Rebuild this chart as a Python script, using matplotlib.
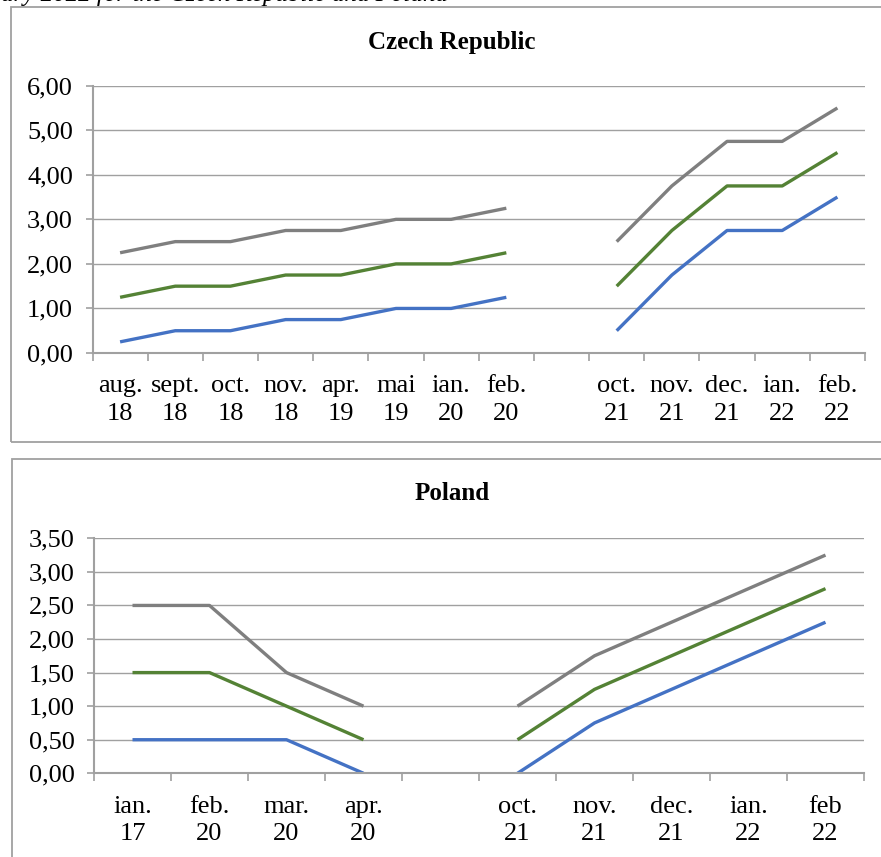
import matplotlib
matplotlib.use('Agg')
import matplotlib.pyplot as plt
import numpy as np
from matplotlib.patches import Rectangle

plt.rcParams['font.family'] = ['Liberation Serif', 'DejaVu Serif']

# Czech Republic data (gap between feb. 20 and oct. 21)
cz_labels = ['aug.\n18', 'sept.\n18', 'oct.\n18', 'nov.\n18', 'apr.\n19', 'mai\n19',
             'ian.\n20', 'feb.\n20', '', 'oct.\n21', 'nov.\n21', 'dec.\n21', 'ian.\n22', 'feb.\n22']
cz_blue = [0.25, 0.5, 0.5, 0.75, 0.75, 1.0, 1.0, 1.25, np.nan, 0.5, 1.75, 2.75, 2.75, 3.5]
cz_green = [1.25, 1.5, 1.5, 1.75, 1.75, 2.0, 2.0, 2.25, np.nan, 1.5, 2.75, 3.75, 3.75, 4.5]
cz_grey = [2.25, 2.5, 2.5, 2.75, 2.75, 3.0, 3.0, 3.25, np.nan, 2.5, 3.75, 4.75, 4.75, 5.5]

# Poland data
pl_labels = ['ian.\n17', 'feb.\n20', 'mar.\n20', 'apr.\n20', '', 'oct.\n21', 'nov.\n21',
             'dec.\n21', 'ian.\n22', 'feb\n22']
pl_blue = [0.5, 0.5, 0.5, 0.0, np.nan, 0.0, 0.75, 1.25, 1.75, 2.25]
pl_green = [1.5, 1.5, 1.0, 0.5, np.nan, 0.5, 1.25, 1.75, 2.25, 2.75]
pl_grey = [2.5, 2.5, 1.5, 1.0, np.nan, 1.0, 1.75, 2.25, 2.75, 3.25]

BLUE = '#4472c4'
GREEN = '#548235'
GREY = '#7f7f7f'
GRID = '#a0a0a0'
FS = 19
TFS = 18
W, H = 881, 857


def px_box(left, top, right, bottom):
    # figure fractions from pixel coords (origin top-left)
    return [left / W, 1 - bottom / H, (right - left) / W, (bottom - top) / H]


def draw_panel(fig, rect, labels, series, ymax, ystep):
    ax = fig.add_axes(rect)
    n = len(labels)
    x = np.arange(n) + 0.5
    for vals, col in series:
        ax.plot(x, vals, color=col, linewidth=2.4, solid_capstyle='butt')
    ax.set_xlim(0, n)
    ax.set_ylim(0, ymax)
    yt = np.arange(0, ymax + 1e-9, ystep)
    ax.set_yticks(yt)
    ax.set_yticklabels([f'{v:.2f}'.replace('.', ',') for v in yt], fontsize=FS)
    ax.set_xticks(x)
    ax.set_xticklabels(labels, fontsize=FS, linespacing=1.32)
    ax.set_xticks(np.arange(n + 1), minor=True)
    ax.tick_params(axis='x', which='major', length=0, pad=16)
    ax.tick_params(axis='x', which='minor', length=6, color=GRID, width=1.2)
    ax.tick_params(axis='y', length=5, color=GRID, width=1.2, pad=9)
    ax.yaxis.grid(True, color=GRID, linewidth=1.0)
    ax.set_axisbelow(True)
    for s in ['top', 'right']:
        ax.spines[s].set_visible(False)
    for s in ['left', 'bottom']:
        ax.spines[s].set_color(GRID)
        ax.spines[s].set_linewidth(1.5)
    return ax


fig = plt.figure(figsize=(W / 100, H / 100), dpi=100)

# outer frames
for l, t, r, b in [(11, 7.5, 900, 441.7), (11.5, 459, 900, 900)]:
    fig.patches.append(Rectangle((l / W, 1 - b / H), (r - l) / W, (b - t) / H,
                                 transform=fig.transFigure, fill=False,
                                 edgecolor=GRID, linewidth=1.3))

fig.text(448 / W, 1 - 1.5 / H, 'ary 2022 for the Czech Republic and Poland',
         ha='right', va='baseline', fontsize=TFS, style='italic')

draw_panel(fig, px_box(92.5, 85.7, 865, 353), cz_labels,
           [(cz_blue, BLUE), (cz_green, GREEN), (cz_grey, GREY)], 6.0, 1.0)
fig.text(452 / W, 1 - 42 / H, 'Czech Republic', ha='center', va='center',
         fontsize=TFS, fontweight='bold')

draw_panel(fig, px_box(94, 538.3, 864, 773.3), pl_labels,
           [(pl_blue, BLUE), (pl_green, GREEN), (pl_grey, GREY)], 3.5, 0.5)
fig.text(452 / W, 1 - 493 / H, 'Poland', ha='center', va='center',
         fontsize=TFS, fontweight='bold')

fig.savefig('out.png', dpi=100)
